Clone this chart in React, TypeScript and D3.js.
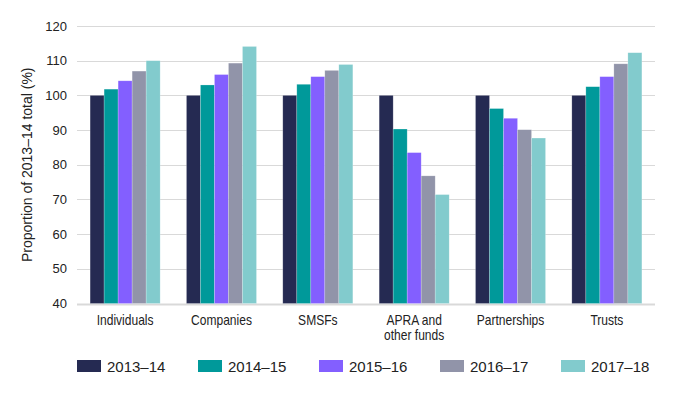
import React from 'react';
import * as d3 from 'd3';

const categories = ['Individuals', 'Companies', 'SMSFs', 'APRA and\nother funds', 'Partnerships', 'Trusts'];
const years = ['2013–14', '2014–15', '2015–16', '2016–17', '2017–18'];
const colors = ['#252a52', '#00999a', '#835fff', '#9194a9', '#82cbcd'];

// one array per category, values per year
const individuals = [100, 101.8, 104.2, 107.0, 110.0];
const companies = [100, 103.0, 106.0, 109.3, 114.1];
const smsfs = [100, 103.2, 105.4, 107.2, 108.9];
const apra = [100, 90.3, 83.5, 76.8, 71.4];
const partnerships = [100, 96.2, 93.4, 90.1, 87.7];
const trusts = [100, 102.5, 105.4, 109.1, 112.3];
const values = [individuals, companies, smsfs, apra, partnerships, trusts];

const yTicks = [40, 50, 60, 70, 80, 90, 100, 110, 120];

const W = 689;
const H = 393;
const margin = { top: 26, right: 34, bottom: 89.5, left: 77 };
const FONT = '"Liberation Sans", Arial, sans-serif';

export default function App() {
  const x0 = d3.scaleBand<string>()
    .domain(categories)
    .range([margin.left, W - margin.right])
    .paddingInner(0.273)
    .paddingOuter(0.136);
  const x1 = d3.scaleBand<string>()
    .domain(years)
    .range([0, x0.bandwidth()]);
  const y = d3.scaleLinear()
    .domain([40, 120])
    .range([H - margin.bottom, margin.top]);

  const legendX = d3.scalePoint<string>()
    .domain(years)
    .range([77, 561]);

  return (
    <svg width={W} height={H} style={{ position: 'absolute', left: 0, top: 0, fontFamily: FONT }}>
      {/* gridlines */}
      {yTicks.map(t => (
        <line key={t} x1={margin.left} x2={W - margin.right} y1={Math.round(y(t)) + 0.5} y2={Math.round(y(t)) + 0.5}
          stroke="#d9d9d9" strokeWidth={t === 40 ? 2 : 1} />
      ))}
      {yTicks.map(t => (
        <text key={'l' + t} x={67} y={y(t)} dy="0.35em" textAnchor="end" fontSize={13} fill="#222">{t}</text>
      ))}
      <text transform={`translate(27,${(margin.top + H - margin.bottom) / 2}) rotate(-90)`} textAnchor="middle"
        dy="0.35em" fontSize={14} fill="#222">Proportion of 2013–14 total (%)</text>

      {/* bars */}
      {categories.map((c, ci) => (
        <g key={c} transform={`translate(${x0(c)},0)`}>
          {years.map((yr, yi) => (
            <rect key={yr} x={x1(yr)} y={y(values[ci][yi])} width={x1.bandwidth()}
              height={y(40) - y(values[ci][yi])} fill={colors[yi]} stroke="#ffffff" strokeOpacity={0.35} strokeWidth={0.6} />
          ))}
          {c.split('\n').map((line, li) => (
            <text key={li} transform={`translate(${x0.bandwidth() / 2},${325 + li * 15}) scale(0.86,1)`}
              textAnchor="middle" fontSize={14} fill="#222">{line}</text>
          ))}
        </g>
      ))}

      {/* legend */}
      {years.map((yr, yi) => (
        <g key={yr} transform={`translate(${legendX(yr)},360)`}>
          <rect width={24} height={12} fill={colors[yi]} />
          <text x={30} y={6.5} dy="0.36em" fontSize={15} fill="#222">{yr}</text>
        </g>
      ))}
    </svg>
  );
}
